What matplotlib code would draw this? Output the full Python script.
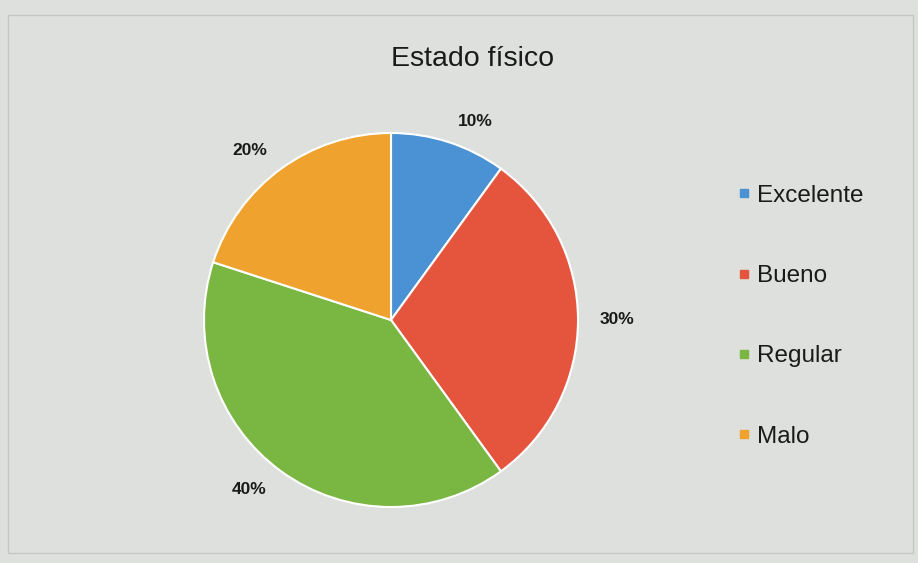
import numpy as np
import matplotlib.pyplot as plt
from matplotlib.lines import Line2D
from matplotlib.patches import Rectangle

# datos del gráfico
categorias = ['Excelente', 'Bueno', 'Regular', 'Malo']
porcentajes = [10, 30, 40, 20]
colores = ['#4a92d4', '#e5553d', '#7ab642', '#f0a22e']
titulo = 'Estado físico'

plt.rcParams['font.family'] = ['Liberation Sans', 'DejaVu Sans']

fondo = '#dde0dd'
fig = plt.figure(figsize=(9.18, 5.63), dpi=100, facecolor=fondo)

# marco del gráfico
fig.patches.append(Rectangle((8/918, 10/563), 905/918, 538/563, transform=fig.transFigure,
                             fill=False, edgecolor='#c4c7c4', linewidth=1))

# eje de la torta: centro (391,320) px, radio 187 px
r = 187
ax = fig.add_axes([(391-r)/918, (563-320-r)/563, 2*r/918, 2*r/563])
ax.set_facecolor(fondo)
cunas, textos, pct = ax.pie(porcentajes, colors=colores, startangle=90, counterclock=False,
                            autopct='%1.0f%%', pctdistance=1.2,
                            wedgeprops=dict(edgecolor='white', linewidth=1.5),
                            textprops=dict(fontsize=12.5, fontweight='bold', color='#1a1a1a'))
ax.set_xlim(-1, 1)
ax.set_ylim(-1, 1)
ax.set_aspect('auto')

# etiquetas fuera del borde, como en Excel
dist = 1 + 18/r
for w, t in zip(cunas, pct):
    ang = np.deg2rad((w.theta1 + w.theta2) / 2)
    c, s = np.cos(ang), np.sin(ang)
    t.set_position((dist*c + 0.02*np.sign(c), dist*s - 0.02*np.sign(s)))
    t.set_ha('center' if abs(c) < 0.3 else ('left' if c > 0 else 'right'))
    t.set_va('center' if abs(s) < 0.3 else ('bottom' if s > 0 else 'top'))

fig.text(473/918, 1-59/563, titulo, ha='center', va='center', fontsize=20.5, color='#1a1a1a')

manijas = [Line2D([], [], marker='s', linestyle='none', markersize=6, color=c) for c in colores]
fig.legend(manijas, categorias, loc='upper left', bbox_to_anchor=(727/918, 1-175/563),
           frameon=False, fontsize=17.5, handlelength=0.6, handletextpad=0.25,
           labelspacing=2.4, borderaxespad=0, labelcolor='#1a1a1a')

fig.savefig('out.png', dpi=100, facecolor=fondo)
